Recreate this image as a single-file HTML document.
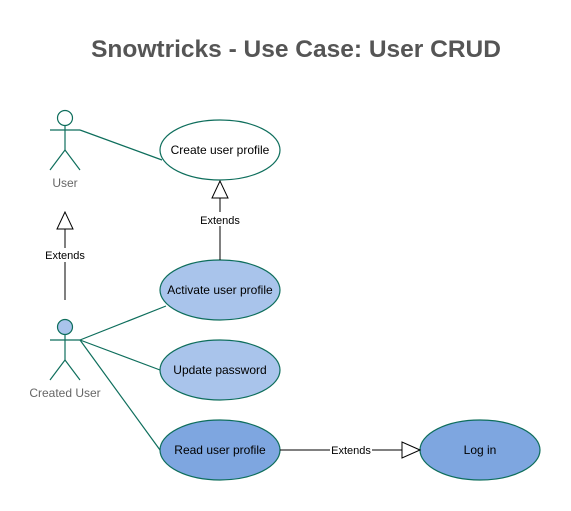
<!DOCTYPE html>
<html><head><meta charset="utf-8"><style>
html,body{margin:0;padding:0;background:#fff;width:571px;height:511px;overflow:hidden}
svg{display:block}
text{font-family:"Liberation Sans",Arial,sans-serif}
</style></head><body>
<svg width="571" height="511" viewBox="0 0 571 511" xmlns="http://www.w3.org/2000/svg">
<text x="296" y="57" text-anchor="middle" font-size="24.5" font-weight="bold" fill="#555">Snowtricks - Use Case: User CRUD</text>
<g stroke="#0e6e5c" stroke-width="1.2" fill="none">
<circle cx="65" cy="118" r="7.5" fill="#fff"/>
<line x1="65" y1="125.5" x2="65" y2="150"/>
<line x1="50" y1="130" x2="80" y2="130"/>
<line x1="65" y1="150" x2="50" y2="170"/>
<line x1="65" y1="150" x2="80" y2="170"/>
<circle cx="65" cy="327" r="7.5" fill="#a9c4eb"/>
<line x1="65" y1="334.5" x2="65" y2="360"/>
<line x1="50" y1="340" x2="80" y2="340"/>
<line x1="65" y1="360" x2="50" y2="380"/>
<line x1="65" y1="360" x2="80" y2="380"/>
<line x1="80" y1="130" x2="162" y2="160"/>
<line x1="80" y1="340" x2="166" y2="306"/>
<line x1="80" y1="340" x2="160" y2="370"/>
<line x1="80" y1="340" x2="160" y2="450"/>
<ellipse cx="220" cy="150" rx="60" ry="30" fill="#fff"/>
<ellipse cx="220" cy="290" rx="60" ry="30" fill="#a9c4eb"/>
<ellipse cx="220" cy="370" rx="60" ry="30" fill="#a9c4eb"/>
<ellipse cx="220" cy="450" rx="60" ry="30" fill="#7ea6e0"/>
<ellipse cx="480" cy="450" rx="60" ry="30" fill="#7ea6e0"/>
</g>
<g stroke="#000" stroke-width="1" fill="#fff">
<line x1="220" y1="260" x2="220" y2="198"/>
<polygon points="220,181 212,198 228,198"/>
<line x1="65" y1="300" x2="65" y2="229"/>
<polygon points="65,212 57,229 73,229"/>
<line x1="280" y1="450" x2="402" y2="450"/>
<polygon points="420,450 402,442 402,458"/>
</g>
<g font-size="11" text-anchor="middle" fill="#000">
<rect x="198" y="212" width="44" height="14" fill="#fff"/>
<text x="220" y="224">Extends</text>
<rect x="43" y="248" width="44" height="14" fill="#fff"/>
<text x="65" y="259">Extends</text>
<rect x="330" y="443" width="42" height="14" fill="#fff"/>
<text x="351" y="454">Extends</text>
</g>
<g font-size="12" text-anchor="middle" fill="#000">
<text x="220" y="154">Create user profile</text>
<text x="220" y="294">Activate user profile</text>
<text x="220" y="374">Update password</text>
<text x="220" y="454">Read user profile</text>
<text x="480" y="454">Log in</text>
</g>
<g font-size="12" text-anchor="middle" fill="#666">
<text x="65" y="187">User</text>
<text x="65" y="397">Created User</text>
</g>
</svg>
</body></html>
